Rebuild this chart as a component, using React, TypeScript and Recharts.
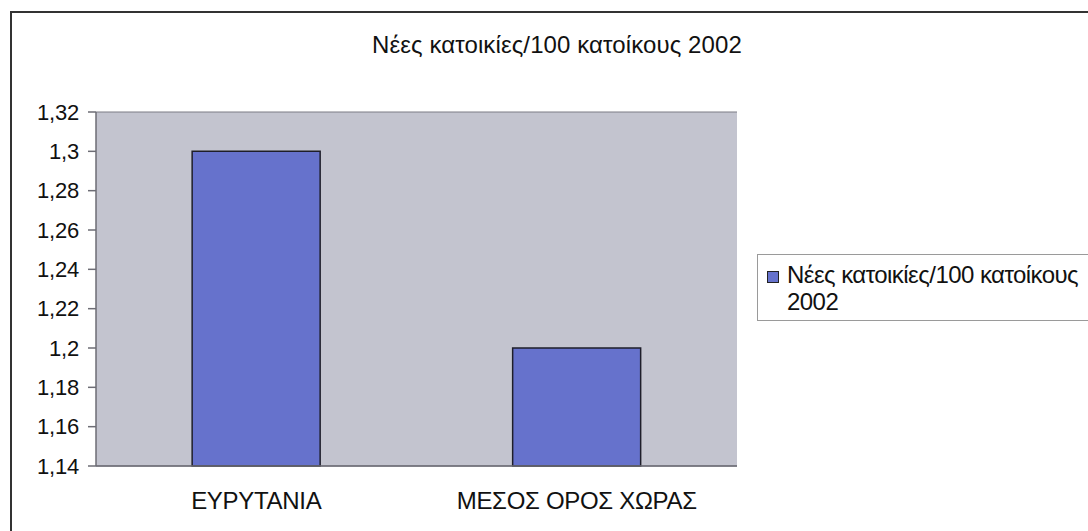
import { BarChart, Bar, XAxis, YAxis, CartesianGrid } from 'recharts'

const categories = ['ΕΥΡΥΤΑΝΙΑ', 'ΜΕΣΟΣ ΟΡΟΣ ΧΩΡΑΣ']
const values = [1.3, 1.2]
const yTicks = [1.14, 1.16, 1.18, 1.2, 1.22, 1.24, 1.26, 1.28, 1.3, 1.32]
const seriesName = 'Νέες κατοικίες/100 κατοίκους 2002'
const title = 'Νέες κατοικίες/100 κατοίκους 2002'

const data = categories.map((c, i) => ({ name: c, value: values[i] }))

const FONT = '"Liberation Sans", Arial, sans-serif'
const BAR = '#6672cc'

const fmt = (v: number) => String(Number(v.toFixed(2))).replace('.', ',')

// legend wraps the year onto a second line like the original
function LegendBox() {
  const cut = seriesName.lastIndexOf(' ')
  return (
    <div
      style={{
        position: 'absolute',
        left: 757,
        top: 254,
        width: 360,
        height: 67,
        border: '1px solid #9a9a9a',
        background: '#fff',
        fontFamily: FONT,
        fontSize: 24,
        color: '#111',
        lineHeight: '27px',
        boxSizing: 'border-box',
        padding: '6px 0 0 9px',
        whiteSpace: 'nowrap',
        letterSpacing: -0.55,
      }}
    >
      <span
        style={{
          display: 'inline-block',
          width: 10,
          height: 10,
          background: BAR,
          border: '1px solid #222',
          marginRight: 8,
        }}
      />
      {seriesName.slice(0, cut)}
      <div style={{ paddingLeft: 20 }}>{seriesName.slice(cut + 1)}</div>
    </div>
  )
}

export default function App() {
  return (
    <div style={{ position: 'absolute', left: 0, top: 0, width: 1088, height: 531, overflow: 'hidden', background: '#fff' }}>
      <div
        style={{
          position: 'absolute',
          left: 10,
          top: 11,
          width: 1100,
          height: 540,
          border: '2px solid #333',
          boxSizing: 'border-box',
        }}
      />
      <div
        style={{
          position: 'absolute',
          left: 372,
          top: 31,
          fontFamily: FONT,
          fontSize: 24,
          color: '#111',
          letterSpacing: 0.1,
          whiteSpace: 'nowrap',
        }}
      >
        {title}
      </div>
      <div style={{ position: 'absolute', left: 0, top: 0 }}>
        <BarChart
          width={1088}
          height={531}
          data={data}
          margin={{ top: 112, right: 351, bottom: 0, left: 0 }}
          barCategoryGap="30%"
        >
          <CartesianGrid fill="#c3c4cf" stroke="#7d7d85" strokeWidth={1.2} vertical={false} />
          <XAxis
            dataKey="name"
            height={65}
            tickLine={false}
            axisLine={{ stroke: '#6d6d75', strokeWidth: 1.5 }}
            tick={{ fill: '#111', fontSize: 24, fontFamily: FONT, letterSpacing: -0.3 }}
            tickMargin={20}
          />
          <YAxis
            yAxisId="left"
            width={96}
            domain={[1.14, 1.32]}
            ticks={yTicks}
            tickFormatter={fmt}
            interval={0}
            tickSize={8}
            tickLine={{ stroke: '#6d6d75', strokeWidth: 1.5 }}
            axisLine={{ stroke: '#6d6d75', strokeWidth: 1.5 }}
            tick={{ fill: '#111', fontSize: 22, fontFamily: FONT, letterSpacing: -0.2 }}
            tickMargin={9}
          />
          <YAxis
            yAxisId="right"
            orientation="right"
            width={0}
            domain={[1.14, 1.32]}
            tick={false}
            tickLine={false}
            axisLine={{ stroke: '#7d7d85', strokeWidth: 1.5 }}
          />
          <Bar
            yAxisId="left"
            dataKey="value"
            name={seriesName}
            fill={BAR}
            stroke="#1e1e2a"
            strokeWidth={1.5}
            isAnimationActive={false}
          />
        </BarChart>
      </div>
      <LegendBox />
    </div>
  )
}
